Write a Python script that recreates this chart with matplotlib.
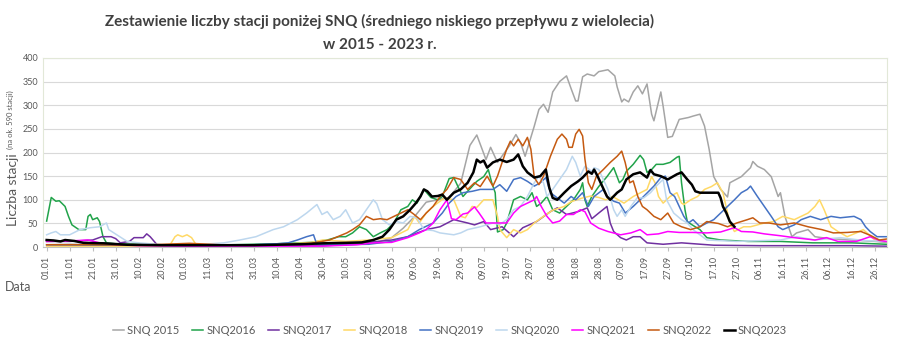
import numpy as np
import pandas as pd
import matplotlib
matplotlib.use("Agg")
import matplotlib.pyplot as plt

plt.rcParams['font.family'] = ['Lato', 'DejaVu Sans']

# (day of year, number of stations)
snq2015 = [(0, 5), (10, 6), (20, 5), (30, 4), (45, 3), (60, 3), (80, 4), (100, 5), (120, 6), (135, 8),
           (145, 12), (150, 20), (155, 40), (160, 65), (165, 95), (170, 100), (175, 105), (180, 135),
           (184, 215), (187, 237), (191, 185), (193, 211), (196, 179), (201, 213), (204, 238), (206, 221),
           (208, 192), (212, 256), (214, 291), (216, 302), (218, 285), (220, 328), (223, 350), (226, 362),
           (228, 335), (230, 309), (231, 309), (233, 360), (235, 366), (238, 362), (240, 371), (244, 375),
           (247, 362), (248, 339), (250, 307), (251, 313), (253, 307), (255, 328), (257, 341), (259, 324),
           (261, 345), (263, 281), (264, 267), (267, 328), (268, 298), (270, 232), (272, 234), (275, 270),
           (279, 274), (281, 277), (284, 281), (286, 256), (288, 207), (290, 149), (293, 122), (296, 106),
           (297, 136), (302, 149), (306, 168), (307, 181), (309, 171), (312, 164), (315, 149), (318, 107),
           (319, 115), (321, 64), (324, 22), (326, 30), (331, 37), (334, 22), (340, 18), (350, 15),
           (360, 12), (365, 10)]
snq2016 = [(0, 55), (2, 105), (4, 97), (5.5, 98), (8, 86), (9.5, 65), (11, 47), (14, 37), (17, 37), (18, 65),
           (19, 69), (20, 58), (22, 62), (23, 54), (24.5, 22), (26, 9), (30, 7), (40, 6), (50, 5), (60, 5),
           (80, 5), (100, 7), (115, 10), (122, 15), (127, 22), (130, 22), (133, 30), (136, 43), (139, 37),
           (142, 22), (145, 30), (148, 37), (151, 51), (154, 79), (157, 86), (159, 100), (161, 93), (164, 122),
           (167, 105), (170, 100), (172, 107), (175, 145), (177, 147), (179, 126), (181, 107), (183, 118),
           (187, 139), (190, 149), (192, 164), (193.5, 136), (195, 115), (196, 32), (198.5, 37), (200, 51),
           (203, 100), (206, 107), (209, 100), (211, 115), (213, 86), (215, 93), (217.5, 107), (220, 79),
           (223, 72), (226, 86), (229, 100), (232, 122), (233, 136), (234, 100), (235, 86), (237, 107),
           (240, 128), (243.6, 149), (246.5, 168), (249, 136), (250.5, 143), (252, 160), (255, 175),
           (258, 194), (259.5, 185), (261, 158), (263, 164), (265, 175), (268, 175), (271, 179), (274, 190),
           (275, 192), (276, 136), (277.5, 79), (278.5, 54), (280.6, 47), (284, 37), (287, 20), (293, 15),
           (305, 12), (319, 12), (333, 9), (350, 9), (365, 6)]
snq2017 = [(0, 12), (10, 12), (20, 15), (24, 22), (28, 22), (30, 18), (32, 9), (36, 12), (38, 20), (42, 20),
           (43.5, 28), (45, 22), (48, 5), (60, 3), (90, 3), (120, 3), (135, 6), (142, 11), (150, 15), (157, 22),
           (159, 26), (165, 37), (171, 43), (177, 58), (183, 51), (186, 47), (190, 54), (193, 37), (198, 43),
           (203, 22), (207, 41), (213, 54), (219, 75), (222, 83), (226, 69), (231, 75), (235, 83), (237, 60),
           (240, 72), (243.6, 86), (245, 51), (246.5, 33), (249.5, 20), (252, 15), (255, 22), (258, 22),
           (261, 9), (268, 6), (276, 9), (290, 4), (310, 3), (330, 3), (350, 3), (365, 2)]
snq2018 = [(0, 2), (20, 2), (40, 2), (50, 2), (53.7, 5), (55.8, 22), (57, 26), (59, 22), (61, 26), (63, 20),
           (65, 5), (80, 3), (100, 5), (115, 10), (120, 15), (130, 12), (140, 15), (150, 20), (157, 37),
           (160, 65), (162, 51), (165, 72), (168, 86), (171, 97), (173, 104), (177, 100), (180, 65), (182, 62),
           (185, 86), (187, 84), (190, 100), (194, 100), (196, 65), (197, 37), (200, 20), (203, 37), (206, 30),
           (209, 37), (212, 51), (216, 65), (220, 78), (225, 86), (228, 96), (233, 104), (236.5, 108),
           (240, 105), (243, 100), (246, 107), (251, 93), (255, 107), (261, 122), (263, 149), (264.5, 136),
           (266, 107), (268, 93), (271, 107), (274, 115), (276, 93), (277, 90), (280, 100), (283, 107),
           (286, 122), (289, 128), (291.6, 136), (294, 115), (297, 51), (299, 33), (303, 43), (306, 43),
           (312, 51), (316, 54), (320, 65), (325, 58), (331, 72), (334, 86), (336, 100), (338, 79), (341, 43),
           (344, 33), (348, 22), (352, 30), (355, 37), (360, 15), (365, 12)]
snq2019 = [(0, 5), (30, 4), (60, 4), (90, 5), (100, 7), (105, 9), (109, 15), (113, 22), (116, 26), (117.5, 5),
           (125, 5), (140, 6), (150, 12), (157, 22), (162, 37), (168, 51), (172, 72), (175, 93), (178, 107),
           (181, 115), (185, 118), (188.5, 122), (194, 122), (197, 132), (200, 118), (203, 143), (206, 147),
           (209, 139), (212, 129), (214.6, 136), (217, 147), (219, 115), (222, 104), (225, 93), (228, 107),
           (230, 100), (233, 115), (235.5, 86), (238, 107), (242, 122), (243.6, 107), (246.5, 97), (249, 93),
           (251.6, 72), (255, 86), (259.5, 107), (264, 129), (267, 147), (269, 150), (271, 115), (273, 107),
           (275, 86), (277, 65), (279, 51), (281, 58), (284, 43), (287, 51), (290, 58), (293, 72), (296, 86),
           (299, 100), (302, 115), (304.6, 122), (306, 129), (309, 107), (312, 86), (315, 65), (318, 43),
           (320, 37), (325, 47), (328, 58), (332, 65), (336.5, 58), (341, 65), (345, 62), (351, 65), (354, 58),
           (356, 43), (358, 33), (361, 22), (365, 22)]
snq2020 = [(0, 26), (2, 30), (4, 33), (6, 26), (10, 26), (14.5, 37), (19, 41), (23, 43), (26, 51), (27, 37),
           (30.5, 26), (35, 12), (40, 9), (50, 5), (65, 5), (77, 9), (84, 15), (91, 22), (98.5, 37), (103, 43),
           (109, 58), (113, 72), (117.5, 90), (119.7, 69), (122, 75), (124.6, 58), (127.6, 65), (130, 79),
           (133, 51), (136, 58), (139, 79), (142, 100), (143.5, 92), (146, 58), (149, 47), (152, 54), (155, 51),
           (158, 65), (161, 62), (164, 37), (168, 35), (171, 30), (177, 26), (180, 30), (183, 37), (188.5, 43),
           (194, 51), (197, 48), (200, 58), (203, 79), (206, 86), (209, 107), (212, 136), (214, 150), (216, 136),
           (217.5, 107), (220, 122), (223, 143), (226, 164), (228.5, 192), (230, 179), (232, 150), (234, 171),
           (237, 160), (238, 168), (240, 164), (244, 122), (246.5, 79), (248, 65), (250, 79), (251.5, 65),
           (254, 86), (256.7, 104), (259.5, 104), (262.5, 115), (265, 129), (268, 143), (269.5, 100),
           (272.6, 72), (276, 58), (278.5, 51), (281, 37), (284, 26), (287, 15), (300, 12), (319, 15),
           (326, 22), (334, 15), (345, 20), (355, 14), (365, 12)]
snq2021 = [(0, 12), (10, 13), (18, 15), (23, 9), (30, 5), (40, 3), (60, 2), (90, 2), (120, 2), (135, 5),
           (142, 9), (150, 10), (157, 20), (162, 30), (165, 37), (168, 51), (171, 79), (174, 100), (176, 60),
           (178, 58), (181, 70), (183, 72), (186, 85), (188, 72), (191, 51), (195, 51), (200, 51), (203, 72),
           (206, 86), (209, 93), (212, 100), (213, 107), (215, 86), (217.5, 65), (220, 51), (223, 55), (226, 69),
           (229, 69), (232, 79), (234, 75), (236.5, 51), (240, 40), (244, 33), (249.5, 26), (254, 30), (258, 37),
           (261, 26), (266, 28), (270, 33), (275, 31), (281, 31), (287, 30), (293, 32), (299, 41), (302, 33),
           (307, 32), (312, 28), (319, 24), (325, 20), (334, 15), (339, 20), (344, 12), (352, 12), (358, 22),
           (362, 14), (365, 12)]
snq2022 = [(0, 5), (20, 5), (40, 4), (62, 8), (80, 4), (100, 5), (115, 8), (123, 15), (130.5, 30), (133, 37),
           (136, 47), (139, 65), (142, 58), (145, 60), (148, 58), (151, 65), (154, 72), (157, 79), (159.5, 70),
           (162.5, 58), (165, 72), (168, 86), (171, 107), (174, 122), (177, 147), (180, 143), (183, 122),
           (186, 136), (188.5, 128), (191.5, 150), (194, 129), (196, 150), (198, 179), (200, 207), (201.6, 224),
           (203, 214), (205, 228), (207, 214), (209, 232), (210.5, 207), (212, 147), (214, 132), (216, 150),
           (219, 192), (222, 228), (224, 239), (226, 228), (227, 211), (228.5, 211), (230, 239), (231.5, 249),
           (233, 235), (234, 186), (235.5, 136), (237, 122), (239, 150), (242, 164), (245, 179), (248, 192),
           (250, 203), (251.5, 179), (253.5, 136), (255, 140), (257, 107), (259, 86), (261, 79), (264, 65),
           (267, 58), (270, 72), (272.6, 51), (276, 43), (280, 37), (284, 43), (287, 54), (292, 50), (296, 43),
           (300, 51), (304.6, 58), (307, 62), (310, 51), (314, 51), (319, 47), (325, 51), (331, 43), (337, 37),
           (342, 30), (348, 31), (354, 33), (358, 25), (362, 15), (365, 17)]
snq2023 = [(0, 15), (3, 14), (6, 12), (8, 15), (12, 13), (16, 9), (25, 8), (35, 5), (50, 4), (70, 4), (90, 4),
           (110, 6), (120, 8), (130, 9), (137, 10), (142, 15), (146, 22), (149, 37), (152, 58), (155, 65),
           (158, 79), (160.5, 93), (162.5, 107), (164, 122), (165.5, 118), (167.5, 107), (170, 108), (172, 111),
           (174, 100), (177, 115), (180, 122), (183, 136), (185.5, 158), (187, 185), (188.5, 179), (190, 183),
           (191.5, 168), (194, 179), (197, 185), (200, 180), (203, 185), (205, 196), (207, 171), (209, 158),
           (212, 147), (214.6, 150), (217, 164), (218.5, 126), (220, 104), (222, 100), (225, 115), (228, 129),
           (231, 139), (233, 147), (235.5, 160), (237, 155), (238, 164), (239.5, 150), (241.5, 129),
           (243.6, 107), (245, 100), (248, 115), (250, 122), (252, 143), (255, 154), (258, 158), (261, 147),
           (262.5, 163), (264, 154), (267, 150), (270, 143), (274, 154), (276, 158), (278.5, 143), (280.5, 132),
           (282, 118), (284, 115), (289, 115), (292, 115), (293, 104), (294, 86), (295.5, 72), (297, 54),
           (299, 43)]

series = [snq2015, snq2016, snq2017, snq2018, snq2019, snq2020, snq2021, snq2022, snq2023]
labels = ['SNQ 2015', 'SNQ2016', 'SNQ2017', 'SNQ2018', 'SNQ2019', 'SNQ2020', 'SNQ2021', 'SNQ2022', 'SNQ2023']
colors = ['#A5A5A5', '#21A34A', '#7030A0', '#FFD966', '#4472C4', '#BDD7EE', '#FF00FF', '#C55A11', '#000000']

tick_days = np.arange(0, 366, 10)
tick_labels = pd.date_range('2016-01-01', periods=len(tick_days), freq='10D').strftime('%d.%m')

fig = plt.figure(figsize=(9, 3.51), dpi=100)
ax = fig.add_axes([0.048, 0.296, 0.938, 0.539])

for s, lab, c in zip(series, labels, colors):
    d, v = zip(*s)
    lw = 1.8 if lab == 'SNQ2023' else 1.1
    ax.plot(d, v, color=c, lw=lw, label=lab)

ax.set_xlim(-1.5, 365.5)
ax.set_ylim(0, 400)
ax.set_yticks(np.arange(0, 401, 50))
ax.set_xticks(tick_days)
ax.set_xticklabels(tick_labels, rotation=90)
ax.tick_params(axis='both', labelsize=6.5, labelcolor='#595959', colors='#BFBFBF', length=3)
ax.tick_params(axis='y', length=0)
ax.grid(axis='y', color='#D9D9D9', lw=0.8)
ax.set_axisbelow(True)
for sp in ax.spines.values():
    sp.set_color('#E2E8D8')
    sp.set_linewidth(0.8)
ax.spines['bottom'].set_color('#BFBFBF')

fig.text(0.422, 0.938, 'Zestawienie liczby stacji poniżej SNQ (średniego niskiego przepływu z wielolecia)',
         ha='center', va='center', fontsize=11, fontweight='bold', color='#404040')
fig.text(0.422, 0.872, 'w 2015 - 2023 r.', ha='center', va='center', fontsize=11,
         fontweight='bold', color='#404040')

fig.text(0.0145, 1 - 226 / 351, 'Liczba stacji', rotation=90, ha='center', va='bottom',
         fontsize=10, color='#595959')
fig.text(0.012, 1 - 149 / 351, '(na ok. 590 stacji)', rotation=90, ha='center', va='bottom',
         fontsize=5.5, color='#595959')
fig.text(0.005, 1 - 287 / 351, 'Data', ha='left', va='center', fontsize=9, color='#595959')

leg = fig.legend(loc='center', bbox_to_anchor=(0.5, 1 - 330 / 351), ncol=9, frameon=False,
                 fontsize=8, handlelength=1.0, handletextpad=0.3, columnspacing=1.1)
for t in leg.get_texts():
    t.set_color('#595959')

fig.savefig('out.png', dpi=100)
